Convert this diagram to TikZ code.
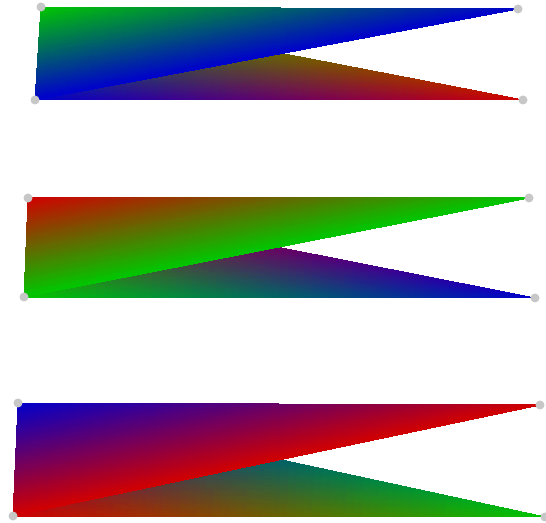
\documentclass[tikz,border=0pt]{standalone}
\usepackage{pgfplots}
\pgfplotsset{compat=1.18}
\tikzset{cornerdot/.style={fill=black!22}}
\pgfplotsset{tripatch/.style={patch, patch type=triangle, shader=interp, mesh/color input=explicit}}
\begin{document}
\begin{tikzpicture}[x=1pt,y=1pt]
\useasboundingbox (0,0) rectangle (546,522);
\begin{axis}[hide axis, x=1pt, y=1pt, xmin=0, xmax=546, ymin=0, ymax=522,
  anchor=origin, at={(0pt,0pt)}, clip=false, scale only axis]
% panel 1: TL green, TR blue, BL blue, BR red
\addplot[tripatch] table[meta=c, row sep=\\] {
x y c \\
41 515 rgb=0,0.78,0 \\
35 422 rgb=0,0,0.8 \\
523 422 rgb=0.82,0,0 \\
41 515 rgb=0,0.78,0 \\
518 513 rgb=0,0,0.8 \\
35 422 rgb=0,0,0.8 \\
};
% panel 2: TL red, TR green, BL green, BR blue
\addplot[tripatch] table[meta=c, row sep=\\] {
x y c \\
28 324 rgb=0.82,0,0 \\
24 225 rgb=0,0.78,0 \\
535 224 rgb=0,0,0.8 \\
28 324 rgb=0.82,0,0 \\
529 324 rgb=0,0.78,0 \\
24 225 rgb=0,0.78,0 \\
};
% panel 3: TL blue, TR red, BL red, BR green
\addplot[tripatch] table[meta=c, row sep=\\] {
x y c \\
18 119 rgb=0,0,0.8 \\
13 6 rgb=0.82,0,0 \\
545 5 rgb=0,0.78,0 \\
18 119 rgb=0,0,0.8 \\
540 117 rgb=0.82,0,0 \\
13 6 rgb=0.82,0,0 \\
};
\end{axis}
\coordinate (a1) at (41,515);
\coordinate (a2) at (518,513);
\coordinate (a3) at (35,422);
\coordinate (a4) at (523,422);
\coordinate (b1) at (28,324);
\coordinate (b2) at (529,324);
\coordinate (b3) at (24,225);
\coordinate (b4) at (535,224);
\coordinate (c1) at (18,119);
\coordinate (c2) at (540,117);
\coordinate (c3) at (13,6);
\coordinate (c4) at (545,5);
\foreach \p in {a1,a2,a3,a4,b1,b2,b3,b4,c1,c2,c3,c4}
  \fill[cornerdot] (\p) circle (4.5);
\end{tikzpicture}
\end{document}
